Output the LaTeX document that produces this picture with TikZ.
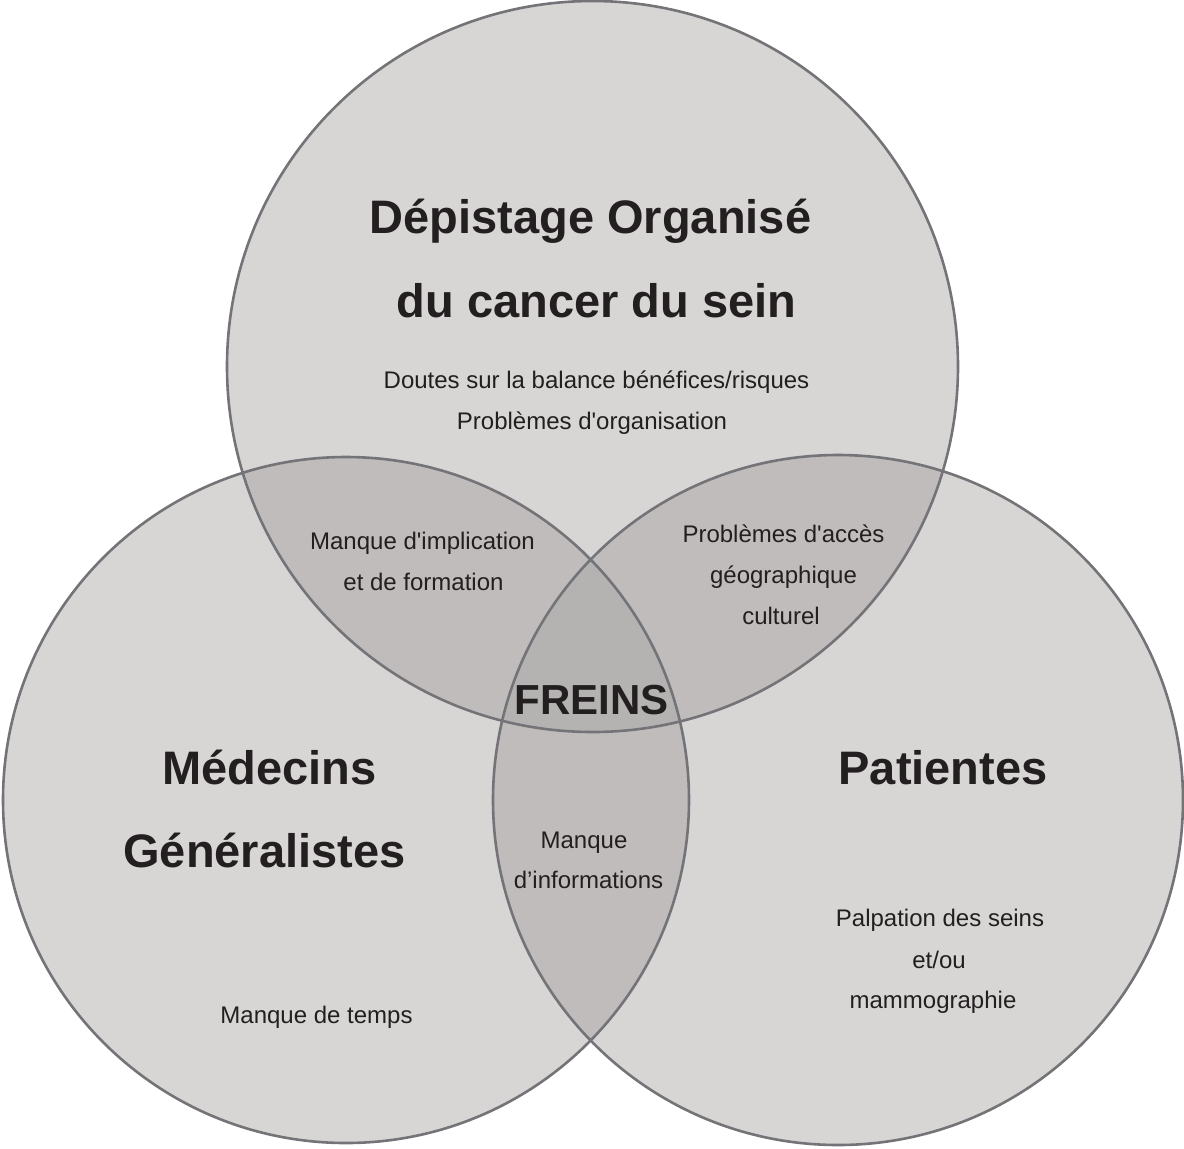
\documentclass[tikz,border=0pt]{standalone}
\usepackage{fontspec}
\setmainfont{Liberation Sans}
\definecolor{venn}{RGB}{216,213,213}
\definecolor{venntwo}{RGB}{191,188,187}
\definecolor{vennthree}{RGB}{181,179,178}
\definecolor{rimgray}{RGB}{116,116,120}
\definecolor{ink}{RGB}{35,31,32}
\newcommand{\rDep}{182.75pt}
\newcommand{\rMed}{171.5pt}
\newcommand{\rPat}{172.5pt}
\tikzstyle{bubble} = [circle, fill=venn, inner sep=0pt, outer sep=0pt]
\tikzstyle{rim} = [draw=rimgray, line width=1.3pt]
\tikzstyle{titre} = [anchor=base, text=ink, inner sep=0pt, font=\bfseries\fontsize{23.5}{28}\selectfont]
\tikzstyle{txt} = [anchor=base, text=ink, inner sep=0pt, font=\fontsize{12}{14}\selectfont]

\begin{document}
\begin{tikzpicture}[x=0.5pt,y=-0.5pt]
\useasboundingbox (0,0) rectangle (1184,1148);

\node[bubble, minimum size=365.5pt] (depistage) at (592.5,366.5) {};
\node[bubble, minimum size=343pt] (medecins) at (346,800) {};
\node[bubble, minimum size=345pt] (patientes) at (838,800) {};

% overlaps
\begin{scope}
\clip (medecins.center) circle (\rMed);
\fill[venntwo] (patientes.center) circle (\rPat);
\end{scope}
\begin{scope}
\clip (depistage.center) circle (\rDep);
\fill[venntwo] (medecins.center) circle (\rMed);
\fill[venntwo] (patientes.center) circle (\rPat);
\clip (medecins.center) circle (\rMed);
\fill[vennthree] (patientes.center) circle (\rPat);
\end{scope}

\draw[rim] (depistage.center) circle (\rDep);
\draw[rim] (medecins.center) circle (\rMed);
\draw[rim] (patientes.center) circle (\rPat);

\node[titre] (dep1) at (590.5,233) {Dépistage Organisé};
\node[titre] (dep2) at (596.5,317) {du cancer du sein};
\node[txt] (dep3) at (596.5,388) {Doutes sur la balance bénéfices/risques};
\node[txt] (dep4) at (592,429) {Problèmes d\textquotesingle organisation};

\node[txt] (dm1) at (422.5,549) {Manque d\textquotesingle implication};
\node[txt] (dm2) at (423.5,590) {et de formation};

\node[txt] (dp1) at (783.5,542) {Problèmes d\textquotesingle accès};
\node[txt] (dp2) at (783.5,583) {géographique};
\node[txt] (dp3) at (781,624) {culturel};

\node[titre, font=\bfseries\fontsize{21}{25}\selectfont] (freins) at (591.5,714) {FREINS};

\node[titre] (med1) at (269.5,784) {Médecins};
\node[titre] (med2) at (264.5,867) {Généralistes};
\node[txt] (med3) at (316.5,1023) {Manque de temps};

\node[txt] (mp1) at (584,848) {Manque};
\node[txt] (mp2) at (588.5,888) {d’informations};

\node[titre] (pat1) at (943,784) {Patientes};
\node[txt] (pat2) at (940,926) {Palpation des seins};
\node[txt] (pat3) at (939,968) {et/ou};
\node[txt] (pat4) at (933,1008) {mammographie};

\end{tikzpicture}
\end{document}
